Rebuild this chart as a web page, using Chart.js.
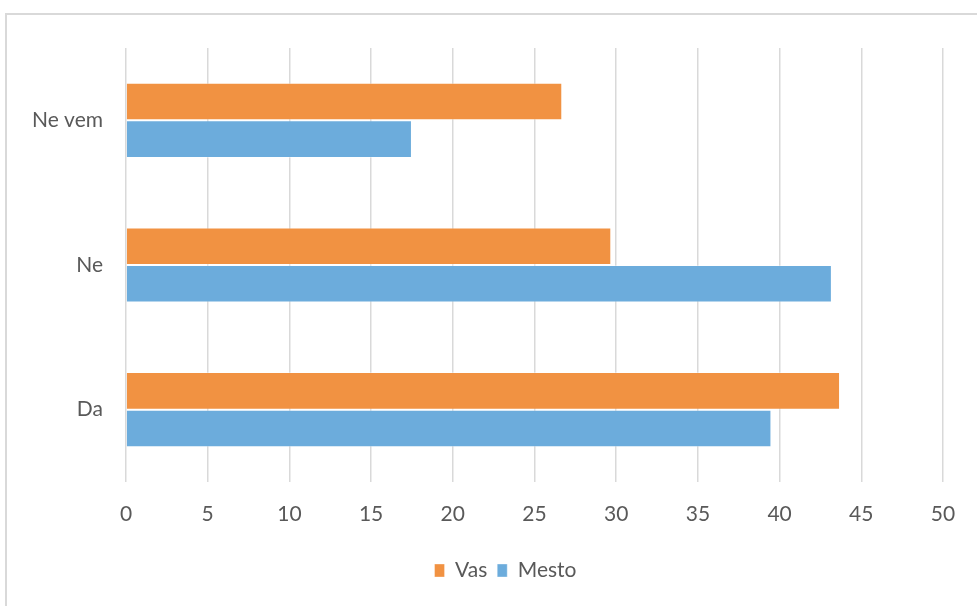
<!DOCTYPE html>
<html>
<head>
<meta charset="utf-8">
<script src="https://cdn.jsdelivr.net/npm/chart.js@4/dist/chart.umd.min.js"></script>
<style>
  html, body { margin: 0; padding: 0; background: #fff; overflow: hidden; }
  #frame { position: absolute; left: 5px; top: 13px; width: 1200px; height: 800px;
           border-left: 2px solid #d9d9d9; border-top: 2px solid #d9d9d9; }
  #wrap { position: absolute; left: 0; top: 0; width: 977px; height: 606px; }
</style>
</head>
<body>
<div id="frame"></div>
<div id="wrap"><canvas id="chart" width="977" height="606"></canvas></div>
<script>
const categories = ["Ne vem", "Ne", "Da"];
const vasValues = [26.7, 29.7, 43.7];
const mestoValues = [17.5, 43.2, 39.5];
const xTicks = [0, 5, 10, 15, 20, 25, 30, 35, 40, 45, 50];

const labelFont = { family: "Lato, 'Open Sans', sans-serif", size: 21 };
const textColor = "#595959";

// the original legend sits a bit right of the canvas centre
const legendShift = {
  id: "legendShift",
  afterLayout(chart) {
    chart.legend.left += 31;
    chart.legend.right += 31;
  }
};

const ctx = document.getElementById("chart").getContext("2d");
new Chart(ctx, {
  type: "bar",
  data: {
    labels: categories,
    datasets: [
      { label: "Vas", data: vasValues, backgroundColor: "#f19242",
        borderColor: "rgba(255,255,255,0.35)", borderWidth: 1 },
      { label: "Mesto", data: mestoValues, backgroundColor: "#6cacdc",
        borderColor: "rgba(255,255,255,0.35)", borderWidth: 1 }
    ]
  },
  options: {
    indexAxis: "y",
    responsive: false,
    animation: false,
    barPercentage: 1,
    categoryPercentage: 0.52,
    layout: { padding: { left: 6, top: 48, right: 34, bottom: 15 } },
    plugins: {
      legend: {
        position: "bottom",
        labels: { boxWidth: 10, boxHeight: 13, color: textColor, font: labelFont, padding: 10 }
      },
      tooltip: { enabled: false }
    },
    scales: {
      x: {
        min: 0,
        max: 50,
        afterBuildTicks: (scale) => { scale.ticks = xTicks.map(v => ({ value: v })); },
        afterFit: (scale) => { scale.height = 68; },
        border: { display: false },
        grid: { color: "#d9d9d9", lineWidth: 1.5, drawTicks: false },
        ticks: { color: textColor, font: labelFont, padding: 20 }
      },
      y: {
        afterFit: (scale) => { scale.width = 120; },
        border: { display: false },
        grid: { display: false, drawTicks: false },
        ticks: { color: textColor, font: labelFont, padding: 23 }
      }
    }
  },
  plugins: [legendShift]
});
</script>
</body>
</html>
